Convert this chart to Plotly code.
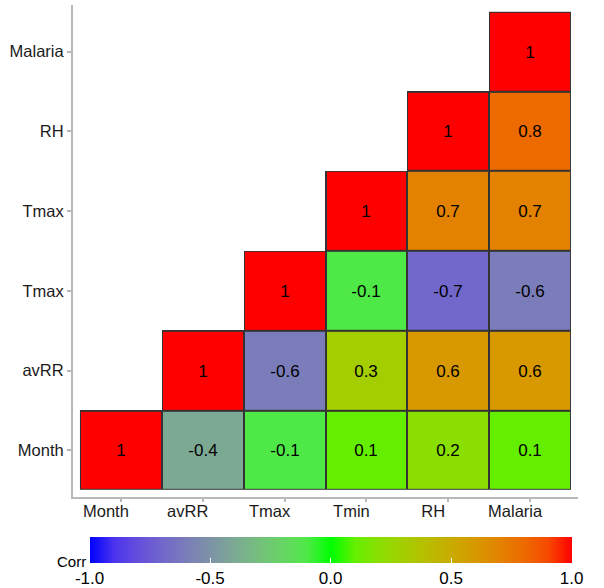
import numpy as np
import plotly.graph_objects as go

# Variable labels (x: columns left->right, y: rows bottom->top)
x_labels = ["Month", "avRR", "Tmax", "Tmin", "RH", "Malaria"]
y_labels = ["Month", "avRR", "Tmax", "Tmax", "RH", "Malaria"]

# Correlation values, one list per row (bottom row first); None = empty cell
row_month = [1, -0.4, -0.1, 0.1, 0.2, 0.1]
row_avrr = [None, 1, -0.6, 0.3, 0.6, 0.6]
row_tmax_a = [None, None, 1, -0.1, -0.7, -0.6]
row_tmax_b = [None, None, None, 1, 0.7, 0.7]
row_rh = [None, None, None, None, 1, 0.8]
row_malaria = [None, None, None, None, None, 1]

rows = [row_month, row_avrr, row_tmax_a, row_tmax_b, row_rh, row_malaria]
z = [[np.nan if v is None else v for v in r] for r in rows]
text = [["" if v is None else f"{v:g}" for v in r] for r in rows]
mask = [[np.nan if v is None else 1 for v in r] for r in rows]

colorbar_ticks = [-1, -0.5, 0, 0.5, 1]
colorbar_ticktext = ["-1.0", "-0.5", "0.0", "0.5", "1.0"]


# Diverging blue-green-red scale interpolated in CIE Lab space
def _srgb_to_lab(hexc):
    rgb = np.array([int(hexc[i:i + 2], 16) for i in (1, 3, 5)]) / 255.0
    lin = np.where(rgb <= 0.04045, rgb / 12.92, ((rgb + 0.055) / 1.055) ** 2.4)
    m = np.array([[0.4124564, 0.3575761, 0.1804375],
                  [0.2126729, 0.7151522, 0.0721750],
                  [0.0193339, 0.1191920, 0.9503041]])
    xyz = m @ lin / np.array([0.95047, 1.0, 1.08883])
    f = np.where(xyz > 0.008856, np.cbrt(xyz), 7.787 * xyz + 16 / 116)
    return np.array([116 * f[1] - 16, 500 * (f[0] - f[1]), 200 * (f[1] - f[2])])


def _lab_to_hex(lab):
    L, a, b = lab
    fy = (L + 16) / 116
    fx = fy + a / 500
    fz = fy - b / 200
    f = np.array([fx, fy, fz])
    xyz = np.where(f ** 3 > 0.008856, f ** 3, (f - 16 / 116) / 7.787)
    xyz = xyz * np.array([0.95047, 1.0, 1.08883])
    minv = np.array([[3.2404542, -1.5371385, -0.4985314],
                     [-0.9692660, 1.8760108, 0.0415560],
                     [0.0556434, -0.2040259, 1.0572252]])
    lin = np.clip(minv @ xyz, 0, 1)
    rgb = np.where(lin <= 0.0031308, 12.92 * lin, 1.055 * lin ** (1 / 2.4) - 0.055)
    rgb = np.clip(np.round(rgb * 255), 0, 255).astype(int)
    return "#%02x%02x%02x" % tuple(rgb)


low, mid, high = _srgb_to_lab("#0000ff"), _srgb_to_lab("#00ff00"), _srgb_to_lab("#ff0000")
colorscale = []
n = 20
for i in range(n + 1):
    t = i / n
    if t <= 0.5:
        lab = low + (mid - low) * (t / 0.5)
    else:
        lab = mid + (high - mid) * ((t - 0.5) / 0.5)
    colorscale.append([t, _lab_to_hex(lab)])

xs = list(range(len(x_labels)))
ys = list(range(len(y_labels)))
FONT = "Liberation Sans, Arial, sans-serif"

fig = go.Figure()

# Dark underlay that shows through the gaps as tile borders
fig.add_trace(go.Heatmap(
    x=xs, y=ys, z=mask,
    colorscale=[[0, "#333333"], [1, "#333333"]],
    showscale=False, hoverinfo="skip",
))

fig.add_trace(go.Heatmap(
    x=xs, y=ys, z=z,
    text=text, texttemplate="%{text}",
    textfont=dict(family=FONT, size=17, color="#000000"),
    colorscale=colorscale, zmin=-1, zmax=1,
    xgap=2, ygap=2,
    colorbar=dict(
        orientation="h",
        xref="container", yref="container",
        lenmode="pixels", len=482, thickness=26,
        x=0.6545, xanchor="center",
        y=0.0867, yanchor="top", ypad=0, xpad=0,
        outlinewidth=0,
        tickvals=colorbar_ticks, ticktext=colorbar_ticktext,
        ticks="inside", ticklen=5, tickcolor="#ffffff",
        ticklabeloverflow="allow",
        tickfont=dict(family=FONT, size=17, color="#000000"),
    ),
))

axis_font = dict(family=FONT, size=16.5, color="#1a1a1a")
pad = 0.585

fig.update_layout(
    width=604, height=588,
    margin=dict(l=73, r=26, t=5, b=91),
    plot_bgcolor="#ffffff", paper_bgcolor="#ffffff",
    xaxis=dict(
        range=[-pad, len(xs) - 1 + pad],
        tickvals=xs, ticktext=x_labels,
        showgrid=False, zeroline=False,
        showline=True, linecolor="#b8b8b8", linewidth=2,
        ticks="outside", ticklen=3, tickcolor="#b8b8b8", tickwidth=1.5,
        tickfont=axis_font,
        ticklabelshift=-15, ticklabelstandoff=-5,
    ),
    yaxis=dict(
        range=[-pad, len(ys) - 1 + pad],
        tickvals=ys, ticktext=y_labels,
        showgrid=False, zeroline=False,
        showline=True, linecolor="#b8b8b8", linewidth=2,
        ticks="outside", ticklen=4, tickcolor="#b8b8b8", tickwidth=1.5,
        tickfont=axis_font,
    ),
    annotations=[dict(
        text="Corr", xref="paper", yref="paper",
        x=0.0297, y=-0.132, xanchor="right", yanchor="middle",
        showarrow=False,
        font=dict(family=FONT, size=15, color="#000000"),
    )],
)

fig.write_html("out.html")
